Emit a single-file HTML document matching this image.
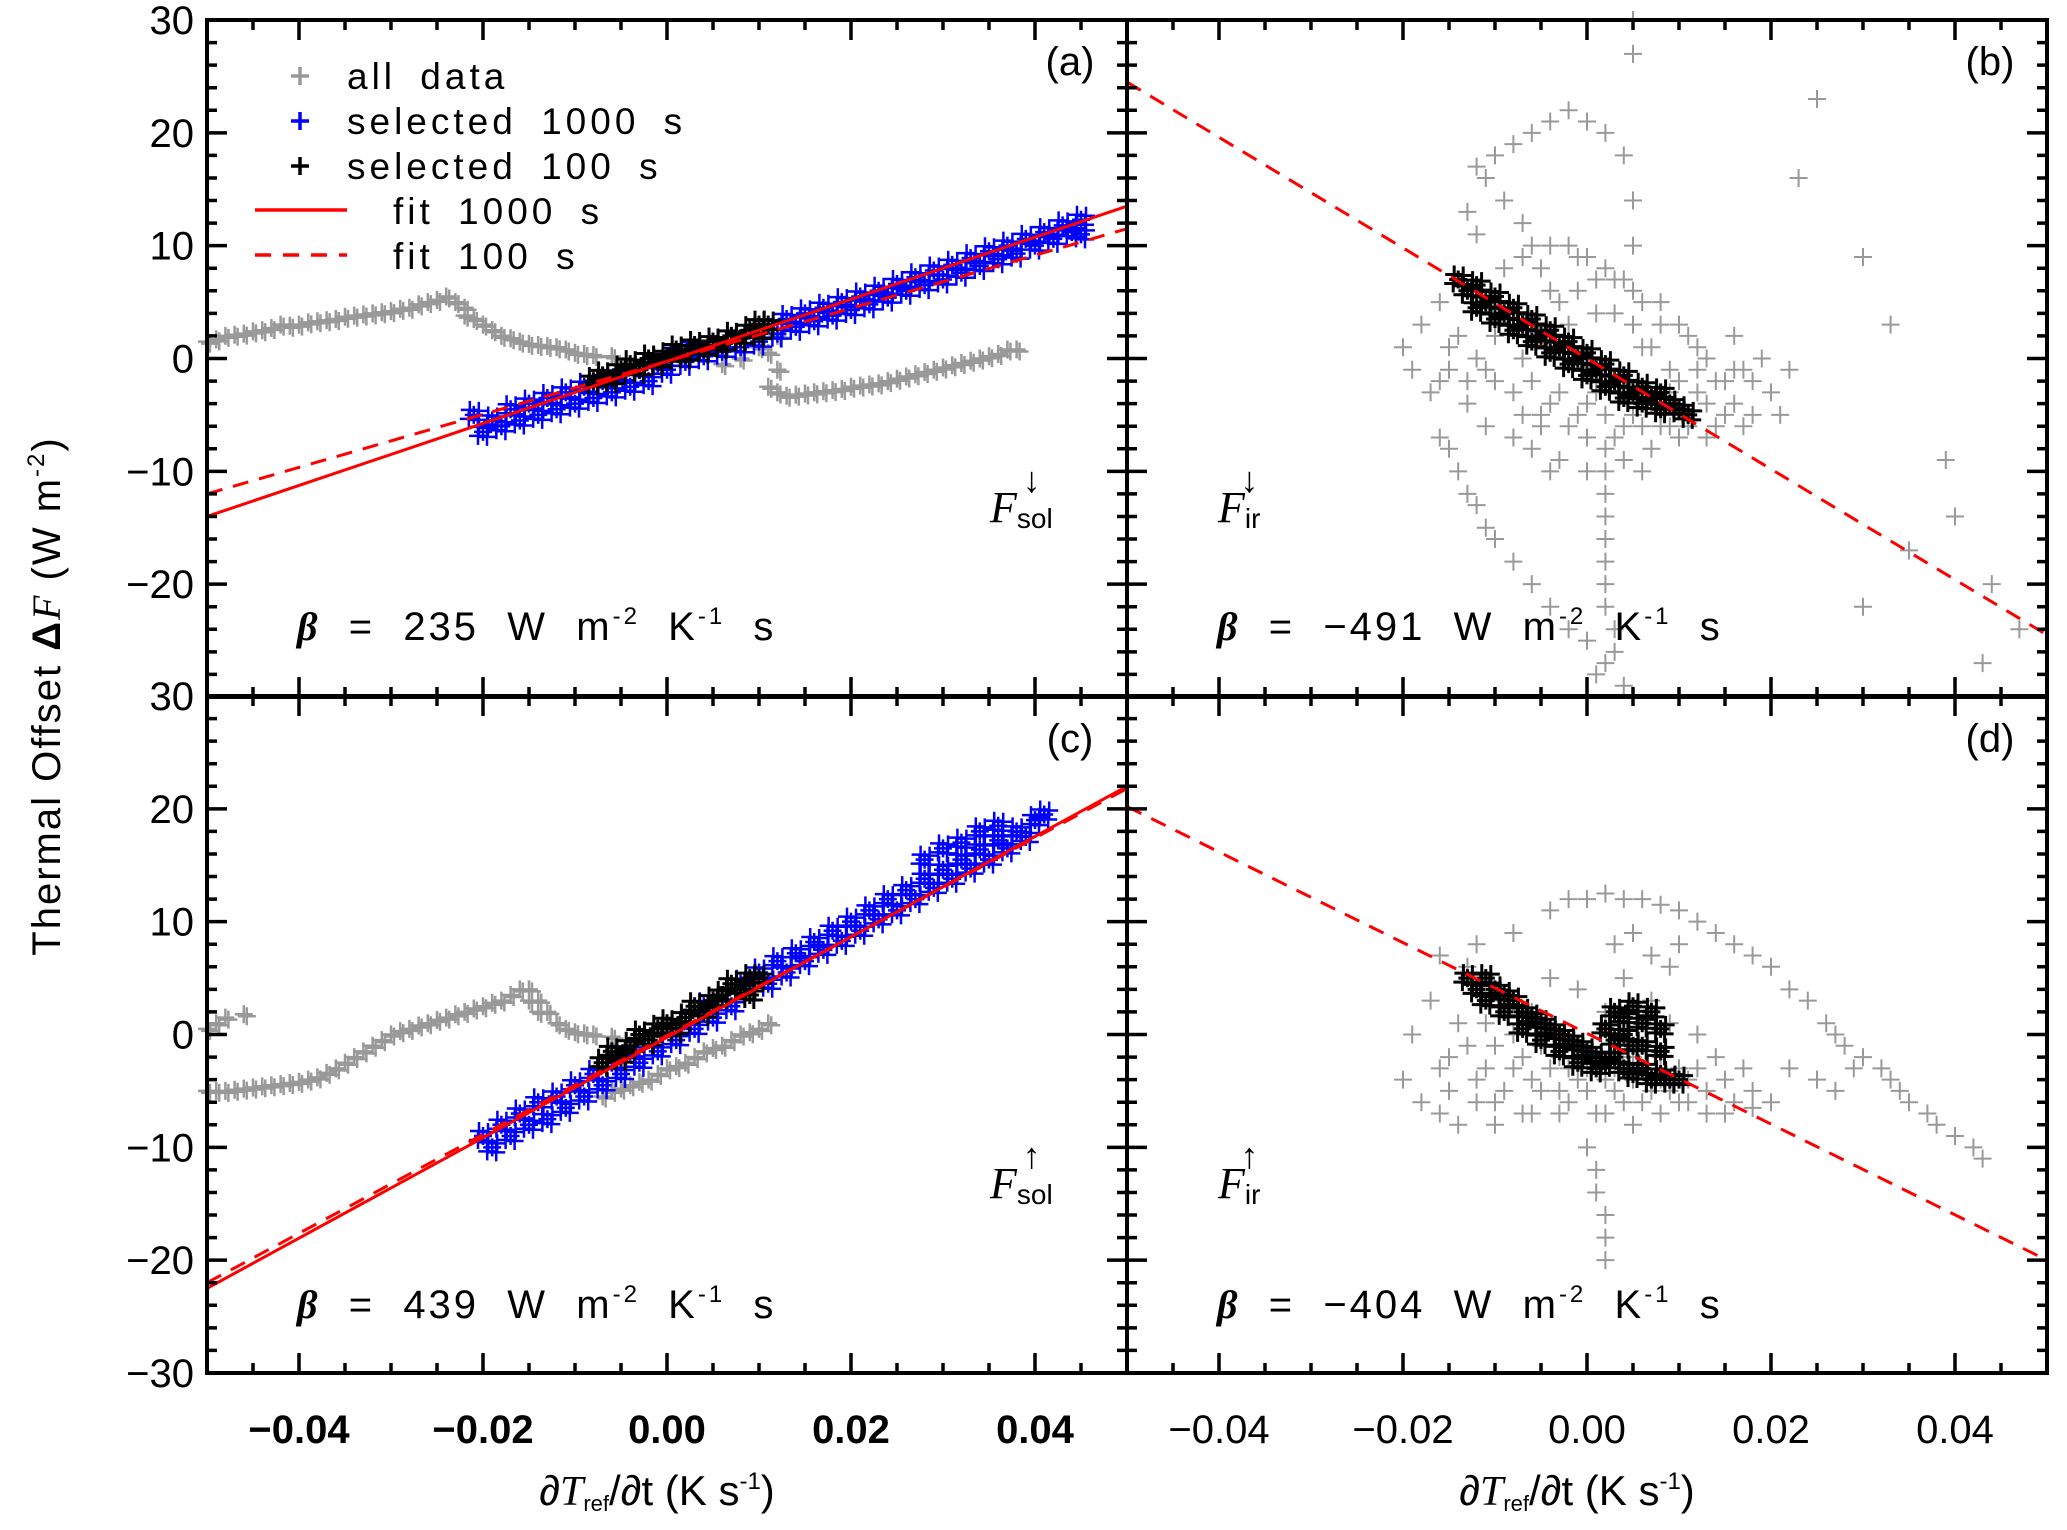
<!DOCTYPE html>
<html><head><meta charset="utf-8"><style>
body{margin:0;background:#fff}
svg{display:block}
text{font-family:"Liberation Sans",sans-serif;fill:#000}
</style></head><body>
<svg id="chart" width="2067" height="1530" viewBox="0 0 2067 1530" xmlns="http://www.w3.org/2000/svg">
<g id="marks"></g>
<g id="frames"></g>
<g id="labels"></g>
</svg>
<script>
// ---------- data ----------
const xTicks=[-0.04,-0.02,0,0.02,0.04];
const xTickLabels=["\u22120.04","\u22120.02","0.00","0.02","0.04"];
const yTicksTop=[30,20,10,0,-10,-20];
const yTicksBottom=[30,20,10,0,-10,-20,-30];
const yTickLabelsTop=["30","20","10","0","\u221210","\u221220"];
const yTickLabelsBottom=["30","20","10","0","\u221210","\u221220","\u221230"];
const panelLetters=["(a)","(b)","(c)","(d)"];
const betaValues=["235","\u2212491","439","\u2212404"];
const fitXEnds=[-0.05,0.05];
const fitSolidA=[-14,13.5];
const fitDashA=[-12,11.5];
const fitDashB=[24.5,-24.5];
const fitSolidC=[-22.5,22];
const fitDashC=[-22,21.8];
const fitDashD=[20.2,-20];

const grayA=[[-0.05,1.5],[-0.049,1.7],[-0.048,2],[-0.047,2.1],[-0.046,2.2],[-0.045,2.4],[-0.044,2.5],[-0.043,2.7],[-0.042,3],[-0.041,2.9],[-0.04,3],[-0.039,3.2],[-0.038,3.3],[-0.037,3.4],[-0.036,3.5],[-0.035,3.7],[-0.034,3.8],[-0.033,3.9],[-0.032,4],[-0.031,4.1],[-0.03,4.2],[-0.029,4.4],[-0.028,4.5],[-0.027,4.8],[-0.026,5],[-0.025,5.2],[-0.024,5.5],[-0.023,5],[-0.022,4.5],[-0.022,3.8],[-0.021,3.5],[-0.02,3],[-0.019,2.5],[-0.018,2],[-0.017,1.8],[-0.016,1.5],[-0.015,1.3],[-0.014,1.2],[-0.013,1.1],[-0.012,1],[-0.011,0.8],[-0.01,0.5],[-0.009,0.4],[-0.008,0.3],[-0.006,0.2],[0.006,-0.5],[0.008,0],[0.01,1],[0.012,2],[0.011,0.5],[0.012,-1],[0.011,-2.5],[0.012,-3],[0.013,-3.3],[0.014,-3.2],[0.015,-3.1],[0.016,-3],[0.017,-2.9],[0.018,-2.8],[0.019,-2.7],[0.02,-2.5],[0.021,-2.4],[0.022,-2.3],[0.023,-2.2],[0.024,-2],[0.025,-1.8],[0.026,-1.6],[0.027,-1.4],[0.028,-1.2],[0.029,-1],[0.03,-0.8],[0.031,-0.6],[0.032,-0.4],[0.033,-0.2],[0.034,0],[0.035,0.2],[0.036,0.4],[0.037,0.8],[0.038,0.8]];
const blueA=[[-0.021,-5],[-0.02,-6.5],[-0.019,-5.5],[-0.018,-6],[-0.017,-4.5],[-0.016,-5.5],[-0.015,-4],[-0.014,-5],[-0.013,-3.5],[-0.012,-4.5],[-0.011,-3],[-0.01,-4],[-0.009,-2.5],[-0.008,-3.5],[-0.007,-2],[-0.006,-3],[-0.005,-1.5],[-0.004,-2.5],[-0.003,-1],[-0.002,-2],[-0.001,-0.5],[0,-1],[0.001,0.5],[0.002,-0.3],[0.003,1],[0.004,0.2],[0.005,1.5],[0.006,0.6],[0.007,2],[0.008,1],[0.009,2.5],[0.01,1.5],[0.011,3],[0.012,2.2],[0.013,3.5],[0.014,2.8],[0.015,4],[0.016,3.3],[0.017,4.5],[0.018,3.8],[0.019,5],[0.02,4.3],[0.021,5.5],[0.022,4.8],[0.023,6],[0.024,5.4],[0.025,6.6],[0.026,6],[0.027,7.2],[0.028,6.5],[0.029,7.8],[0.03,7],[0.031,8.3],[0.032,7.6],[0.033,8.9],[0.034,8.2],[0.035,9.5],[0.036,8.8],[0.037,10],[0.038,9.3],[0.039,10.6],[0.04,10],[0.041,11.2],[0.042,10.6],[0.043,11.8],[0.044,11.2],[0.045,12.3],[0.045,11]];
const blackA=[[-0.008,-2],[-0.007,-1.5],[-0.006,-1.8],[-0.005,-1],[-0.004,-0.5],[-0.003,-1],[-0.002,0],[-0.001,-0.3],[0,0.2],[0.001,0.8],[0.002,0.3],[0.003,1.2],[0.004,0.8],[0.005,1.5],[0.006,1.2],[0.007,2],[0.008,1.8],[0.009,2.5],[0.01,2.2],[0.011,3],[0.01,3]];

const grayB=[[-0.02,1],[-0.019,-1],[-0.017,-3],[-0.018,3],[-0.016,5],[-0.015,-1],[-0.014,2],[-0.013,-4],[-0.012,0],[-0.011,-6],[-0.01,-2],[-0.009,8],[-0.008,-7],[-0.007,0],[-0.006,10],[-0.005,-5],[-0.004,6],[-0.003,-9],[-0.002,3],[-0.001,9],[0,-4],[0.001,7],[0.002,-8],[0.003,4],[0.004,-6],[0.005,6],[0.006,1],[0.007,-8],[0.008,3],[0.009,-1],[0.01,-7],[0.011,2],[0.012,-3],[0.013,0],[0.014,-6],[0.015,-2],[0.016,-4],[0.017,-1],[0.018,-5],
[-0.016,-2],[-0.015,1],[-0.013,-2],[-0.011,-1],[-0.01,2],[-0.008,-3],[-0.007,-5],[-0.006,-2],[-0.005,-6],[-0.004,-4],[-0.003,-3],[-0.002,-6],[-0.001,-5],[0,-7],[0.001,-3],[0.002,-5],[0.003,-7],[0.004,-3],[0.005,-5],[0.006,-6],[0.007,-4],[0.008,-6],[0.009,-3],[0.01,-2],[0.012,-1],[0.013,-4],[0.014,-2],[0.015,-5],[0.016,-1],[0.012,1],[0.01,3],[0.008,5],[0.006,5],[0.004,7],[0.002,8],[0,9],[-0.002,10],[-0.004,10],[-0.005,8],[-0.007,9],[-0.003,5],[-0.001,6],[0.001,4],[0.003,7],[0.005,3],[0.007,1],[-0.006,-8],[-0.004,-10],[0.0,-10],[0.004,-9],[0.006,-10],[0.009,-6],[0.011,-6],[0.013,-7],
[-0.01,18],[-0.008,19],[-0.006,20],[-0.004,21],[-0.002,22],[0,21],[0.002,20],[0.004,18],[0.005,14],[0.005,10],[-0.012,17],[-0.009,14],[-0.007,12],[-0.011,16],[-0.013,13],[-0.012,11],[-0.016,-7],[-0.014,-10],[-0.012,-13],[-0.01,-16],[-0.008,-18],[-0.006,-20],[-0.004,-22],[-0.002,-24],[0,-25],[0.002,-27],[0.004,-29],[-0.015,-8],[-0.013,-12],[-0.011,-15],[0.002,-10],[0.002,-12],[0.002,-14],[0.002,-16],[0.002,-18],[0.002,-20],[0.002,-22],[0.003,-24],[0.003,-26],[0.001,-28],[0.005,30],[0.005,27],[0.025,23],[0.023,16],[0.03,9],[0.033,3],[0.039,-9],[0.04,-14],[0.035,-17],[0.044,-20],[0.047,-24],[0.043,-27],[0.03,-22],[0.02,-3],[0.022,-1],[0.016,2],[0.019,0],[0.021,-5],[0.017,-6],[0.018,-2]];
const blackB=[[-0.014,7],[-0.013,6],[-0.012,6.5],[-0.012,4.5],[-0.011,5],[-0.01,5.5],[-0.01,3.5],[-0.009,4],[-0.008,4.5],[-0.008,2.5],[-0.007,3],[-0.006,3.5],[-0.006,1.5],[-0.005,2],[-0.004,2.5],[-0.004,0.5],[-0.003,1],[-0.002,1.5],[-0.002,-0.5],[-0.001,0],[0,0.5],[0,-1.5],[0.001,-1],[0.002,-0.5],[0.002,-2.5],[0.003,-2],[0.004,-1.5],[0.004,-3.5],[0.005,-3],[0.006,-2.5],[0.006,-4],[0.007,-3.5],[0.008,-3],[0.008,-4.5],[0.009,-4],[0.01,-4.5],[0.011,-5]];

const grayC=[[-0.05,-5],[-0.049,-5],[-0.048,-5],[-0.047,-4.9],[-0.046,-4.8],[-0.045,-4.7],[-0.044,-4.6],[-0.043,-4.5],[-0.042,-4.4],[-0.041,-4.3],[-0.04,-4.2],[-0.039,-4],[-0.038,-3.8],[-0.037,-3.4],[-0.036,-3],[-0.035,-2.5],[-0.034,-2],[-0.033,-1.5],[-0.032,-1],[-0.031,-0.5],[-0.03,0],[-0.029,0.3],[-0.028,0.5],[-0.027,0.8],[-0.026,1],[-0.025,1.3],[-0.024,1.5],[-0.023,1.8],[-0.022,2],[-0.021,2.3],[-0.02,2.5],[-0.019,2.8],[-0.018,3],[-0.017,3.5],[-0.016,4],[-0.015,4],[-0.015,3],[-0.014,3],[-0.014,2],[-0.013,2],[-0.012,1],[-0.011,0.5],[-0.01,0.2],[-0.009,0.1],[-0.008,0],[-0.006,-0.2],[-0.05,0.5],[-0.049,1],[-0.048,1.5],[-0.046,1.8],[-0.007,-5.5],[-0.006,-5],[-0.005,-4.8],[-0.004,-4.5],[-0.003,-4.2],[-0.002,-4],[-0.001,-3.5],[0,-3],[0.001,-2.8],[0.002,-2.5],[0.003,-2],[0.004,-1.5],[0.005,-1.2],[0.006,-1],[0.007,-0.5],[0.008,0],[0.009,0.2],[0.01,0.5],[0.011,1]];
const blueC=[[-0.02,-9],[-0.018,-8],[-0.016,-7],[-0.014,-6],[-0.012,-5.5],[-0.01,-4.5],[-0.008,-3.5],[-0.006,-2.5],[-0.004,-1.5],[-0.002,-0.5],[0,0.5],[0.002,1.5],[0.004,2.5],[0.006,3.5],[0.008,4.5],[0.01,5.5],[0.012,6.5],[0.014,7.2],[0.016,8.2],[0.018,9.2],[0.02,10],[0.022,11],[0.024,12],[0.026,12.8],[0.028,13.8],[0.03,14.6],[0.032,15.5],[0.034,16.4],[0.036,17.2],[0.038,18],[0.04,19],[0.041,19.5],[-0.019,-10],[-0.017,-9],[-0.015,-8],[-0.013,-7.5],[-0.011,-6.5],[-0.009,-5.5],[-0.007,-4.5],[-0.005,-3.5],[-0.003,-2.5],[-0.001,-1.5],[0.001,-0.5],[0.003,0.5],[0.005,1.5],[0.007,2.5],[0.009,3.5],[0.011,4.5],[0.013,5.5],[0.015,6.5],[0.017,7.5],[0.019,8.3],[0.021,9.2],[0.023,10.2],[0.025,11],[0.027,12],[0.029,13],[0.031,13.8],[0.033,14.7],[0.035,15.5],[0.037,16.5],[0.039,17.5],[0.028,15.5],[0.03,16.5],[0.032,17],[0.034,18],[0.036,18.5]];
const blackC=[[-0.007,-2.5],[-0.006,-1.5],[-0.005,-2],[-0.004,-1],[-0.003,0],[-0.002,-0.5],[-0.001,0.5],[0,1],[0.001,0.5],[0.002,1.5],[0.003,2.5],[0.004,2],[0.005,3],[0.006,3.5],[0.007,4.5],[0.008,4],[0.009,5],[0.01,5],[0.009,3.5]];

const grayD=[[-0.02,-4],[-0.018,-6],[-0.016,-7],[-0.014,-8],[-0.019,0],[-0.017,3],[-0.015,-2],[-0.013,6],[-0.012,-4],[-0.011,1],[-0.01,-6],[-0.009,3],[-0.008,-3],[-0.007,-7],[-0.006,2],[-0.005,-5],[-0.004,5],[-0.003,-2],[-0.002,-6],[-0.001,4],[0,-3],[0.001,-7],[0.002,2],[0.003,-5],[0.004,5],[0.005,-2],[0.006,-6],[0.007,3],[0.008,-4],[0.009,1],[0.01,-3],[0.011,-6],[0.012,0],[0.013,-5],[0.014,-2],
[-0.014,1],[-0.013,-1],[-0.011,-3],[-0.01,-1],[-0.009,-5],[-0.008,0],[-0.007,-2],[-0.006,-4],[-0.005,-1],[-0.004,-3],[-0.003,-5],[-0.002,-3],[-0.001,-4],[0,-5],[0.001,-2],[0.002,-4],[0.003,-3],[0.004,-6],[0.005,-4],[0.006,-3],[0.007,-5],[0.008,-2],[0.009,-5],[0.01,-6],[0.011,-4],[0.012,-3],[0.013,-7],[0.015,-4],[0.016,-6],[0.017,-3],[0.018,-5],[-0.016,-3],[-0.015,-5],[-0.012,-6],[-0.01,-8],[-0.006,-7],[-0.003,-7],[0.002,-7],[0.005,-8],[0.008,-7],
[-0.016,7],[-0.012,8],[-0.008,9],[-0.004,11],[0,12],[0.004,12],[0.008,11.5],[0.012,10],[0.016,8],[0.02,6],[0.022,4],[0.024,3],[0.027,0],[0.03,-2],[0.033,-4],[0.035,-6],[0.038,-8],[0.04,-9],[0.043,-11],[-0.002,12],[0.002,12.5],[0.006,12],[0.01,11],[0.014,9],[0.018,7],[0.026,1],[0.028,-1],[0.032,-3],[0.034,-5],[0.037,-7],[0.042,-10],[0.01,8],[0.005,9],[0.007,7],[0.003,8],[0.009,6],[0,-10],[0.001,-12],[0.001,-14],[0.002,-16],[0.002,-18],[0.002,-20],[0.015,-7],[0.018,-6.5],[0.02,-6],[0.025,-4],[0.022,-3],[0.027,-5],[0.029,-3]];
const blackD=[[-0.013,5],[-0.012,4],[-0.011,5],[-0.011,3],[-0.01,4],[-0.009,3.5],[-0.009,2],[-0.008,3],[-0.007,2],[-0.007,0.5],[-0.006,1.5],[-0.005,1],[-0.005,-0.5],[-0.004,0.5],[-0.003,0],[-0.003,-1.5],[-0.002,-0.5],[-0.001,-1],[-0.001,-2.5],[0,-1.5],[0.001,-2],[0.001,-3],[0.002,-2.5],[0.003,-2],[0.004,-3],[0.005,-3.5],[0.006,-3],[0.007,-4],[0.008,-3.5],[0.009,-4],[0.01,-4],[0.003,2],[0.004,1.5],[0.005,2.5],[0.006,1],[0.007,2],[0.008,0.5],[0.002,0.5],[0.004,0],[0.006,-1],[0.008,-1.5],[0.005,-1],[0.003,-0.5]];

// ---------- layout ----------
const NS="http://www.w3.org/2000/svg";
const colX=[207,1127], colW=920;
const rowY=[20,696], rowH=677;
function xs(c,v){return colX[c]+(v+0.05)/0.1*colW;}
function ys(r,v){return rowY[r]+(30-v)/60*rowH;}
function mk(tag,attrs,parent){const e=document.createElementNS(NS,tag);for(const k in attrs)e.setAttribute(k,attrs[k]);parent.appendChild(e);return e;}
const marks=document.getElementById('marks'),frames=document.getElementById('frames'),labels=document.getElementById('labels');

// marker glyph: a "+" optionally doubled with small pixel offsets (thick band style)
function drawPoints(c,r,pts,color,sw,name,glyph){
  const g=mk('g',{stroke:color,'stroke-width':sw},marks);
  
  
  const s=9;let d='';
  for(const p of pts){
    const px=xs(c,p[0]),py=ys(r,p[1]);
    if(px<colX[c]||px>colX[c]+colW||py<rowY[r]||py>rowY[r]+rowH)continue;
    for(const o of glyph){
      const qx=px+o[0],qy=py+o[1];
      d+=`M${qx-s},${qy}h${2*s}M${qx},${qy-s}v${2*s}`;
    }
  }
  const path=mk('path',{d:d},g);
  
  
}
const G1=[[0,0]];
const GB=[[0,0],[5,-4],[-5,4],[4,5],[-4,-5]];
function drawFit(c,r,vals,dash,name){
  const cid='clip'+c+r;
  if(!document.getElementById(cid)){
    const cp=mk('clipPath',{id:cid},marks);
    mk('rect',{x:colX[c],y:rowY[r],width:colW,height:rowH},cp);
  }
  const l=mk('line',{x1:xs(c,fitXEnds[0]),y1:ys(r,vals[0]),x2:xs(c,fitXEnds[1]),y2:ys(r,vals[1]),stroke:'#f00','stroke-width':3,'clip-path':`url(#${cid})`},marks);
  if(dash)l.setAttribute('stroke-dasharray','16,11');
  
  
}

drawPoints(0,0,grayA,'#999',2.5,'all-data-a',[[0,0],[3,2]]);
drawPoints(0,0,blueA,'#00f',2.5,'selected-1000s-a',GB);
drawPoints(0,0,blackA,'#000',3,'selected-100s-a',GB);
drawFit(0,0,fitSolidA,false,'fit-1000s-a');
drawFit(0,0,fitDashA,true,'fit-100s-a');
drawPoints(1,0,grayB,'#999',2,'all-data-b',G1);
drawPoints(1,0,blackB,'#000',3,'selected-100s-b',GB);
drawFit(1,0,fitDashB,true,'fit-100s-b');
drawPoints(0,1,grayC,'#999',2.5,'all-data-c',[[0,0],[3,2]]);
drawPoints(0,1,blueC,'#00f',2.5,'selected-1000s-c',GB);
drawPoints(0,1,blackC,'#000',3,'selected-100s-c',GB);
drawFit(0,1,fitSolidC,false,'fit-1000s-c');
drawFit(0,1,fitDashC,true,'fit-100s-c');
drawPoints(1,1,grayD,'#999',2,'all-data-d',G1);
drawPoints(1,1,blackD,'#000',3,'selected-100s-d',GB);
drawFit(1,1,fitDashD,true,'fit-100s-d');

// ---------- frames & ticks ----------
for(let r=0;r<2;r++)for(let c=0;c<2;c++){
  const L=colX[c],T=rowY[r],R=L+colW,B=T+rowH;
  let d='';
  for(let i=-10;i<=10;i++){
    const v=i*0.005,px=xs(c,v),len=(i%4===0)?20:10;
    if(i===-10||i===10)continue;
    d+=`M${px},${B}v${-len}M${px},${T}v${len}`;
  }
  for(let v=-28;v<=28;v+=2){
    const py=ys(r,v),len=(v%10===0)?20:10;
    d+=`M${L},${py}h${len}M${R},${py}h${-len}`;
  }
  const t=mk('path',{d:d,stroke:'#000','stroke-width':3.5,fill:'none'},frames);
  
  
  const f=mk('rect',{x:L,y:T,width:colW,height:rowH,fill:'none',stroke:'#000','stroke-width':4},frames);
  
  
}

// ---------- labels ----------
function txt(x,y,s,size,name,extra){
  const e=mk('text',Object.assign({x:x,y:y,'font-size':size},extra||{}),labels);
  e.textContent=s;
  
  
  return e;
}
for(let c=0;c<2;c++)for(let i=0;i<xTicks.length;i++){
  txt(xs(c,xTicks[i]),1443,xTickLabels[i],40,'x-tick-label',{'text-anchor':'middle','font-weight':c===0?'bold':'normal'});
}
for(let i=0;i<yTicksTop.length;i++)txt(194,ys(0,yTicksTop[i])+14,yTickLabelsTop[i],40,'y-tick-label',{'text-anchor':'end'});
for(let i=0;i<yTicksBottom.length;i++)txt(194,ys(1,yTicksBottom[i])+14,yTickLabelsBottom[i],40,'y-tick-label',{'text-anchor':'end'});

for(let c=0;c<2;c++){
  const e=mk('text',{x:xs(c,0)-10,y:1505,'font-size':42,'text-anchor':'middle'},labels);
  
  
  e.innerHTML='∂<tspan font-family="Liberation Serif" font-style="italic">T</tspan><tspan font-size="22" dy="6">ref</tspan><tspan dy="-6">/∂t (K s</tspan><tspan font-size="24" dy="-16">-1</tspan><tspan dy="16">)</tspan>';
}
{
  const e=mk('text',{x:0,y:0,'font-size':40,'text-anchor':'middle',transform:'translate(60,696) rotate(-90)','letter-spacing':2},labels);
  
  
  e.innerHTML='Thermal Offset <tspan font-weight="bold">Δ</tspan><tspan font-family="Liberation Serif" font-style="italic">F</tspan> (W m<tspan font-size="24" dy="-16">-2</tspan><tspan dy="16">)</tspan>';
}
const letterPos=[[1070,75],[1990,75],[1070,752],[1990,752]];
for(let i=0;i<4;i++)txt(letterPos[i][0],letterPos[i][1],panelLetters[i],40,'panel-label',{'text-anchor':'middle'});

const fPos=[[990,522,'sol','↓'],[1218,522,'ir','↓'],[990,1198,'sol','↑'],[1218,1198,'ir','↑']];
for(const p of fPos){
  const e=mk('text',{x:p[0],y:p[1],'font-size':44},labels);
  
  
  e.innerHTML=`<tspan font-family="Liberation Serif" font-style="italic">F</tspan><tspan font-size="28" dy="6">${p[2]}</tspan><tspan font-size="36" dx="${p[2]==='sol'?-30:-20}" dy="-36">${p[3]}</tspan>`;
}
const betaPos=[[297,640],[1217,640],[297,1318],[1217,1318]];
for(let i=0;i<4;i++){
  const e=mk('text',{x:betaPos[i][0],y:betaPos[i][1],'font-size':40,'letter-spacing':3},labels);
  
  
  e.innerHTML=`<tspan font-family="Liberation Serif" font-style="italic" font-weight="bold">β</tspan>  =  ${betaValues[i]}  W  m<tspan font-size="24" dy="-16">-2</tspan><tspan dy="16">  K</tspan><tspan font-size="24" dy="-16">-1</tspan><tspan dy="16">  s</tspan>`;
  e.style.whiteSpace='pre';
}

// legend
const leg=mk('g',{},labels);


const legItems=[['all data','#999','p'],['selected 1000 s','#00f','p'],['selected 100 s','#000','p'],['fit 1000 s','#f00','l'],['fit 100 s','#f00','d']];
legItems.forEach((it,i)=>{
  const y=76+i*45;
  if(it[2]==='p'){
    const p=mk('path',{d:`M${291},${y}h18M300,${y-9}v18`,stroke:it[1],'stroke-width':3.5},leg);
    
    
  }else{
    const l=mk('line',{x1:255,y1:y-1,x2:347,y2:y-1,stroke:it[1],'stroke-width':3.5},leg);
    if(it[2]==='d')l.setAttribute('stroke-dasharray','16,12');
    
    
  }
  txt(it[2]==='p'?347:393,y+13,it[0],37,'legend-entry',{'letter-spacing':4,'word-spacing':10});
});
</script>
</body></html>
